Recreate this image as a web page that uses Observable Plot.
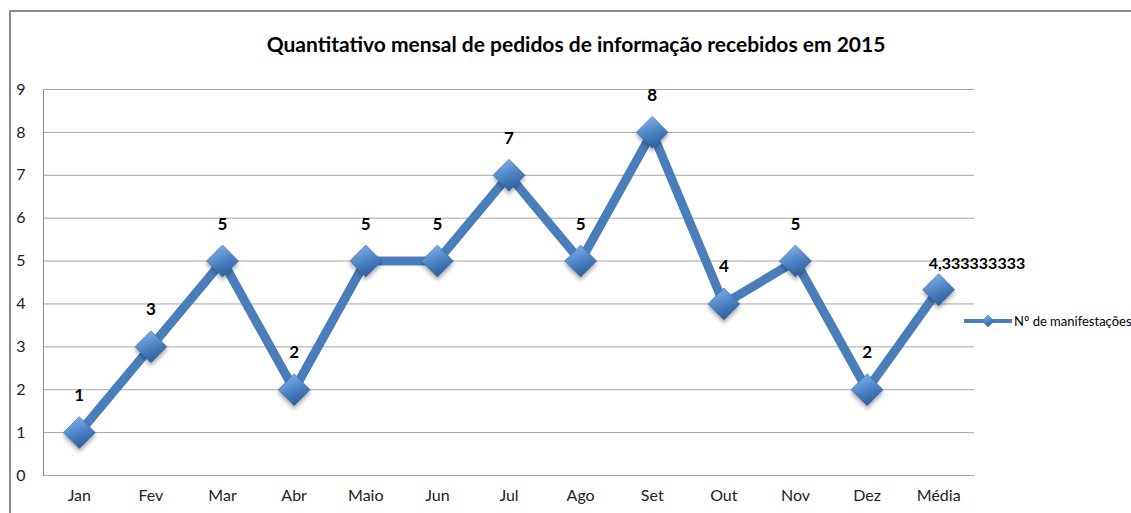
<!DOCTYPE html>
<html>
<head>
<meta charset="utf-8">
<script src="https://cdn.jsdelivr.net/npm/d3@7"></script>
<script src="https://cdn.jsdelivr.net/npm/@observablehq/plot@0.6"></script>
<style>
  html, body { margin: 0; padding: 0; background: #fff; overflow: hidden; }
</style>
</head>
<body>
<div id="chart"></div>
<script>
const months = ["Jan", "Fev", "Mar", "Abr", "Maio", "Jun", "Jul", "Ago", "Set", "Out", "Nov", "Dez", "Média"];
const values = [1, 3, 5, 2, 5, 5, 7, 5, 8, 4, 5, 2, 4.333333333];
const yTicks = [0, 1, 2, 3, 4, 5, 6, 7, 8, 9];
const title = "Quantitativo mensal de pedidos de informação recebidos em 2015";
const seriesName = "N° de manifestações";

const data = months.map((m, i) => ({month: m, value: values[i]}));
const fmt = v => String(v).replace(".", ",");
const FONT = "Lato, 'Open Sans', sans-serif";
const BLUE = "#4a7ebb";

const svg = Plot.plot({
  width: 1131,
  height: 513,
  marginLeft: 43,
  marginRight: 157,
  marginTop: 89,
  marginBottom: 38,
  style: {fontFamily: FONT, fontSize: "16px", color: "#000", background: "#fff"},
  x: {type: "point", domain: months, padding: 0.5, round: false, label: null},
  y: {domain: [0, 9], label: null},
  marks: [
    Plot.gridY(yTicks, {stroke: "#a6a6a6", strokeOpacity: 1, strokeWidth: 1}),
    Plot.axisY(yTicks, {tickSize: 0, tickPadding: 18, fill: "#222", fontSize: 16}),
    Plot.axisX(months, {tickSize: 0, tickPadding: 14, fill: "#222", fontSize: 16}),
    Plot.line(data, {x: "month", y: "value", stroke: BLUE, strokeWidth: 9, strokeLinejoin: "miter"}),
    Plot.dot(data, {x: "month", y: "value", symbol: "diamond2", r: 14.4, fill: "url(#dg)", stroke: "#3b6aa3", strokeWidth: 0.6}),
    Plot.text(data.slice(0, 12), {x: "month", y: "value", text: d => fmt(d.value), dy: -37, fontWeight: "bold", fontSize: 17, fill: "#000"}),
    Plot.text(data.slice(12), {x: "month", y: "value", text: d => fmt(d.value), dy: -26, dx: -10, textAnchor: "start", fontWeight: "bold", fontSize: 16, fill: "#000"}),
    Plot.text([title], {frameAnchor: "top", dy: -44, dx: 67, fontWeight: "bold", fontSize: 21, fill: "#000", lineAnchor: "middle"})
  ]
});

const s = d3.select(svg);
const defs = s.insert("defs", ":first-child");
const g = defs.append("linearGradient").attr("id", "dg").attr("x1", 0.2).attr("y1", 0).attr("x2", 0.6).attr("y2", 1);
g.append("stop").attr("offset", "0%").attr("stop-color", "#86b4ec");
g.append("stop").attr("offset", "50%").attr("stop-color", "#4f86c8");
g.append("stop").attr("offset", "100%").attr("stop-color", "#2b5a98");
const f = defs.append("filter").attr("id", "sh").attr("x", "-50%").attr("y", "-50%").attr("width", "200%").attr("height", "200%");
f.append("feDropShadow").attr("dx", 0).attr("dy", 3).attr("stdDeviation", 2).attr("flood-color", "#000").attr("flood-opacity", 0.35);
s.selectAll("path").filter(function() { return this.getAttribute("fill") === "url(#dg)" || (this.parentNode && this.parentNode.getAttribute && this.parentNode.getAttribute("fill") === "url(#dg)"); }).attr("filter", "url(#sh)");

// y axis line and outer frame
s.append("line").attr("x1", 43.5).attr("x2", 43.5).attr("y1", 89).attr("y2", 475).attr("stroke", "#8c8c8c").attr("stroke-width", 1);
s.append("line").attr("x1", 10).attr("x2", 1131).attr("y1", 11).attr("y2", 11).attr("stroke", "#8c8c8c").attr("stroke-width", 2);
s.append("line").attr("x1", 10).attr("x2", 10).attr("y1", 10).attr("y2", 513).attr("stroke", "#8c8c8c").attr("stroke-width", 2);

// legend
const lg = s.append("g").attr("transform", "translate(964,321)");
lg.append("line").attr("x1", 0).attr("x2", 48).attr("y1", 0).attr("y2", 0).attr("stroke", BLUE).attr("stroke-width", 4);
lg.append("path").attr("d", "M24,-6L30,0L24,6L18,0Z").attr("fill", "url(#dg)").attr("stroke", "#3b6aa3").attr("stroke-width", 0.5);
lg.append("text").attr("x", 50).attr("y", 4.5).attr("font-size", 13).attr("font-family", FONT).attr("text-anchor", "start").attr("fill", "#000").text(seriesName);

document.getElementById("chart").appendChild(svg);
</script>
</body>
</html>
